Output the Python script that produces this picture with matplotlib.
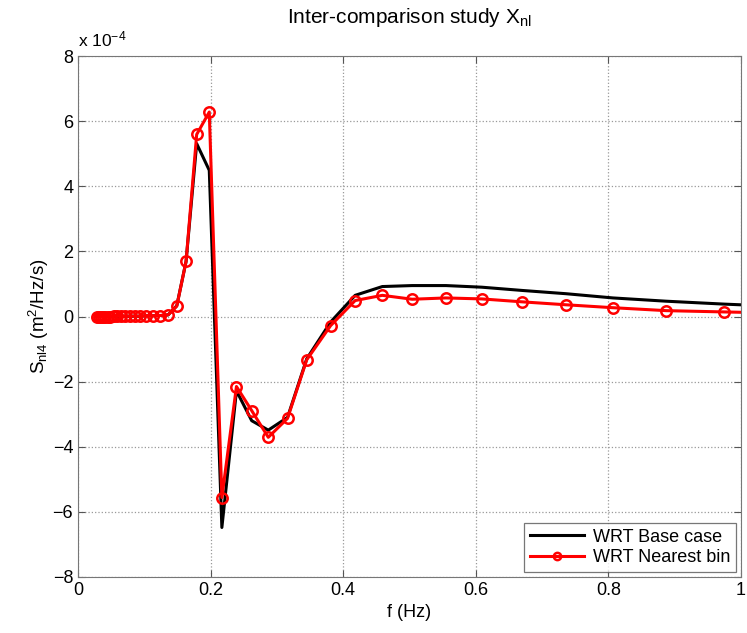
import numpy as np
import matplotlib.pyplot as plt

plt.rcParams['font.family'] = ['Liberation Sans', 'DejaVu Sans']
plt.rcParams['mathtext.fontset'] = 'custom'
plt.rcParams['mathtext.rm'] = 'Liberation Sans'
plt.rcParams['mathtext.it'] = 'Liberation Sans'
plt.rcParams['mathtext.default'] = 'regular'

# frequencies (Hz)
freq = [0.028, 0.031, 0.034, 0.037, 0.041, 0.045, 0.049, 0.054, 0.059,
        0.065, 0.071, 0.078, 0.086, 0.094, 0.103, 0.113, 0.124, 0.136,
        0.149, 0.163, 0.179, 0.198, 0.217, 0.239, 0.262, 0.287, 0.316,
        0.345, 0.381, 0.418, 0.459, 0.504, 0.555, 0.609, 0.670, 0.736,
        0.807, 0.887, 0.975, 1.07]

# S_nl4 in units of 1e-4 m^2/Hz/s
base_case = [0.0, 0.0, 0.0, 0.0, 0.0, 0.0, 0.0, 0.01, 0.01,
             0.01, 0.01, 0.01, 0.01, 0.01, 0.02, 0.02, 0.03, 0.05,
             0.33, 1.69, 5.31, 4.49, -6.48, -2.28, -3.2, -3.49, -3.1,
             -1.3, -0.17, 0.65, 0.92, 0.95, 0.95, 0.9, 0.8, 0.7,
             0.57, 0.47, 0.38, 0.3]
nearest_bin = [0.0, 0.0, 0.0, 0.0, 0.0, 0.0, 0.0, 0.01, 0.01,
               0.01, 0.01, 0.01, 0.01, 0.01, 0.02, 0.02, 0.03, 0.05,
               0.32, 1.69, 5.59, 6.28, -5.56, -2.15, -2.89, -3.71, -3.13,
               -1.33, -0.28, 0.49, 0.65, 0.53, 0.57, 0.54, 0.45, 0.36,
               0.27, 0.18, 0.14, 0.1]

fig = plt.figure(figsize=(7.47, 6.33), dpi=100)
ax = fig.add_axes([0.1044, 0.0885, 0.8876, 0.823])

ax.plot(freq, base_case, color='k', lw=2.2, label='WRT Base case')
ax.plot(freq, nearest_bin, color='r', lw=2.2, marker='o', ms=7.5,
        mfc='none', mec='r', mew=1.8, label='WRT Nearest bin')

ax.set_xlim(0, 1)
ax.set_ylim(-8, 8)
ax.set_xticks([0, 0.2, 0.4, 0.6, 0.8, 1])
ax.set_xticklabels(['0', '0.2', '0.4', '0.6', '0.8', '1'])
ax.set_yticks(range(-8, 9, 2))
ax.grid(True, linestyle=':', color='#999999', lw=0.9)
ax.tick_params(direction='in', labelsize=13, length=5, color='#555555',
               top=True, right=True)
for s in ax.spines.values():
    s.set_color('#777777')

ax.set_xlabel('f (Hz)', fontsize=13)
ax.set_ylabel(r'S$_{nl4}$ (m$^2$/Hz/s)', fontsize=13.5, labelpad=1)
ax.set_title(r'Inter-comparison study X$_{nl}$', fontsize=15, pad=24)
ax.text(0.0, 1.012, r'x 10$^{-4}$', transform=ax.transAxes, fontsize=12.5,
        va='bottom', ha='left')

leg = ax.legend(loc='lower right', fontsize=13, frameon=True, fancybox=False,
                borderaxespad=0.3, handlelength=3.0, borderpad=0.3,
                labelspacing=0.2, markerscale=0.7, handletextpad=0.5)
leg.get_frame().set_edgecolor('#555555')
leg.get_frame().set_linewidth(0.9)

fig.savefig('out.png', dpi=100)
